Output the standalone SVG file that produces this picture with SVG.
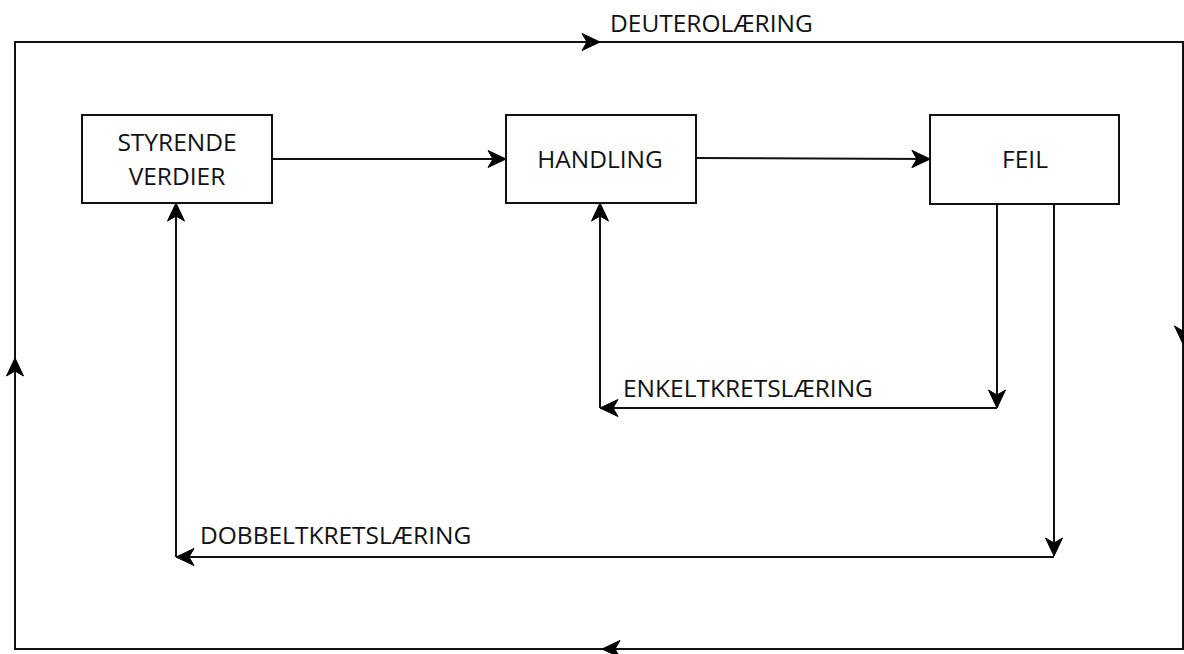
<svg xmlns="http://www.w3.org/2000/svg" width="1184" height="654" viewBox="0 0 1184 654">
<defs>
<marker id="arr" markerUnits="userSpaceOnUse" viewBox="0 0 20 20" markerWidth="20" markerHeight="20" refX="19" refY="10" orient="auto">
<path d="M1,1.5 L19,10 L1,18.5 L6,10 z" fill="#000" stroke="#000" stroke-width="1" stroke-linejoin="round"/>
</marker>
<style>
.box{fill:#fff;stroke:#111;stroke-width:2}
.ln{fill:none;stroke:#111;stroke-width:2}
.t{font-family:"Open Sans","Noto Sans",sans-serif;font-size:24.5px;fill:#111}
.m{text-anchor:middle}
</style>
</defs>
<rect width="1184" height="654" fill="#fff"/>
<g id="connectors">
<path class="ln" d="M15,649 L15,42 L1183,42 L1183,649 Z"/>
<path class="ln" d="M15,400 L15,358" marker-end="url(#arr)"/>
<path class="ln" d="M560,42 L600,42" marker-end="url(#arr)"/>
<path class="ln" d="M1183,300 L1183,344" marker-end="url(#arr)"/>
<path class="ln" d="M640,649 L602,649" marker-end="url(#arr)"/>
<path class="ln" d="M272,159 L506,159" marker-end="url(#arr)"/>
<path class="ln" d="M696,158 L930,159" marker-end="url(#arr)"/>
<path class="ln" d="M997,204 L997,408" marker-end="url(#arr)"/>
<path class="ln" d="M997,408 L600,408" marker-end="url(#arr)"/>
<path class="ln" d="M600,408 L600,203" marker-end="url(#arr)"/>
<path class="ln" d="M1054,204 L1054,556" marker-end="url(#arr)"/>
<path class="ln" d="M1054,557 L176,557" marker-end="url(#arr)"/>
<path class="ln" d="M176,557 L176,203" marker-end="url(#arr)"/>
<text class="t" x="610" y="32">DEUTEROLÆRING</text>
<text class="t" x="623" y="397">ENKELTKRETSLÆRING</text>
<text class="t" x="200" y="544">DOBBELTKRETSLÆRING</text>
</g>
<g id="styrende">
<rect class="box" x="82" y="115" width="190" height="88"/>
<text class="t m" x="177" y="151">STYRENDE</text>
<text class="t m" x="177" y="185">VERDIER</text>
</g>
<g id="handling">
<rect class="box" x="506" y="115" width="190" height="88"/>
<text class="t m" x="600" y="168">HANDLING</text>
</g>
<g id="feil">
<rect class="box" x="930" y="115" width="189" height="89"/>
<text class="t m" x="1025" y="168">FEIL</text>
</g>
</svg>
